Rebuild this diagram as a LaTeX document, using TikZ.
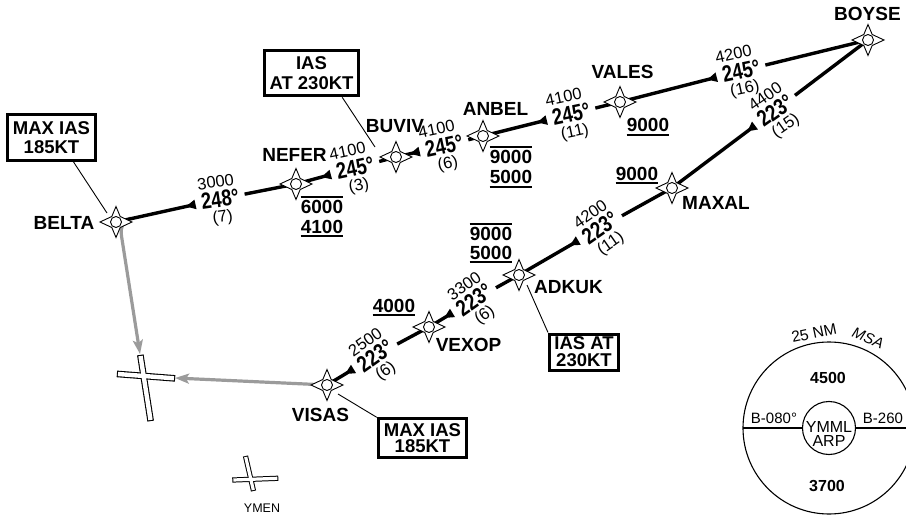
\documentclass[tikz,border=0pt]{standalone}
\usepackage{fontspec}
\setmainfont{Liberation Sans}
\newfontfamily\hdgfont{Liberation Sans}[FakeStretch=0.8]
\usetikzlibrary{arrows.meta,calc}
\definecolor{rtgrey}{RGB}{155,155,155}
\tikzset{
  wpt/.pic={
    \draw[line width=0.9pt, fill=white, line join=miter] (0,-15.5) -- (4.2,-5.5) -- (16,0) -- (4.2,5.5) -- (0,15.5) -- (-4.2,5.5) -- (-16,0) -- (-4.2,-5.5) -- cycle;
    \draw[line width=0.9pt, fill=white] (0,0) circle (5.5);
  },
  route/.style={line width=3.4pt},
  greyroute/.style={line width=3.2pt, draw=rtgrey},
  arr/.style={arrows={Triangle[reversed, length=10pt, width=9pt]-}},
  hdg/.style={font=\hdgfont\bfseries\fontsize{23}{23}\selectfont, inner xsep=1.5pt, inner ysep=1.5pt, outer xsep=4.5pt, outer ysep=0pt},
  altl/.style={font=\fontsize{16.5}{16.5}\selectfont, inner sep=1.5pt},
  distl/.style={font=\fontsize{16.5}{16.5}\selectfont, inner sep=1.5pt},
  wptname/.style={font=\bfseries\fontsize{19}{19}\selectfont, inner sep=0pt},
  cons/.style={font=\bfseries\fontsize{19}{19}\selectfont, inner xsep=0pt, inner ysep=2.6pt},
  conline/.style={line width=2pt},
  infobox/.style={draw, line width=3pt, align=center, inner sep=0pt},
  leader/.style={line width=0.9pt},
  rwyout/.style={line width=6.6pt, shorten <=-1.1pt, shorten >=-1.1pt},
  rwyin/.style={line width=4.4pt, white},
  srwyout/.style={line width=5.2pt, shorten <=-1pt, shorten >=-1pt},
  srwyin/.style={line width=3.2pt, white},
}
\begin{document}
\begin{tikzpicture}[x=1pt,y=-1pt]
\useasboundingbox (0,0) rectangle (906,516);
\clip (0,0) rectangle (906,516);

% waypoints
\coordinate (BELTA) at (116,222);
\coordinate (NEFER) at (296,184);
\coordinate (BUVIV) at (396,157);
\coordinate (ANBEL) at (483,136);
\coordinate (VALES) at (620,102);
\coordinate (BOYSE) at (868,40);
\coordinate (MAXAL) at (672,188);
\coordinate (ADKUK) at (519,275);
\coordinate (VEXOP) at (429,327);
\coordinate (VISAS) at (327,385);

% runway ends
\coordinate (rwyN) at (140,354);
\coordinate (rwyE) at (175,378);

% leg labels
\node[hdg, rotate=8] (h1) at (220,199) {248°};
\node[altl, rotate=8, anchor=south] (a1) at ($(h1.north)+(-2,0)$) {3000};
\node[distl, rotate=8, anchor=north] (d1) at (h1.south) {(7)};

\node[hdg, rotate=12] (h2) at (355,168) {245°};
\node[altl, rotate=12, anchor=south] (a2) at ($(h2.north)+(-4,0)$) {4100};
\node[distl, rotate=12, anchor=north] (d2) at (h2.south) {(3)};

\node[hdg, rotate=12] (h3) at (444,146) {245°};
\node[altl, rotate=12, anchor=south] (a3) at ($(h3.north)+(-4,0)$) {4100};
\node[distl, rotate=12, anchor=north] (d3) at (h3.south) {(6)};

\node[hdg, rotate=12] (h4) at (571,114) {245°};
\node[altl, rotate=12, anchor=south] (a4) at ($(h4.north)+(-4,0)$) {4100};
\node[distl, rotate=12, anchor=north] (d4) at (h4.south) {(11)};

\node[hdg, rotate=12] (h5) at (741,71) {245°};
\node[altl, rotate=12, anchor=south] (a5) at ($(h5.north)+(-4,0)$) {4200};
\node[distl, rotate=12, anchor=north] (d5) at (h5.south) {(16)};

\node[hdg, rotate=35] (h6) at (775,110.5) {223°};
\node[altl, rotate=35, anchor=south] (a6) at (h6.north) {4400};
\node[distl, rotate=35, anchor=north] (d6) at (h6.south) {(15)};

\node[hdg, rotate=35] (h7) at (600,228) {223°};
\node[altl, rotate=35, anchor=south] (a7) at (h7.north) {4200};
\node[distl, rotate=35, anchor=north] (d7) at (h7.south) {(11)};

\node[hdg, rotate=35] (h8) at (474,300) {223°};
\node[altl, rotate=35, anchor=south] (a8) at (h8.north) {3300};
\node[distl, rotate=35, anchor=north] (d8) at (h8.south) {(6)};

\node[hdg, rotate=35] (h9) at (375,356) {223°};
\node[altl, rotate=35, anchor=south] (a9) at (h9.north) {2500};
\node[distl, rotate=35, anchor=north] (d9) at (h9.south) {(6)};

% grey routes
\draw[greyroute, -{Stealth[length=14pt, width=10pt, inset=3pt]}] ($(BELTA)+(15,-4)$) .. controls ($(BELTA)+(8,-2)$) and ($(BELTA)+(4,5)$) .. ($(BELTA)+(5.5,14)$) -- (rwyN);
\draw[greyroute, -{Stealth[length=14pt, width=10pt, inset=3pt]}] (VISAS) -- (rwyE);

% black routes
\draw[route] (NEFER) -- (h1);  \draw[route, arr] (h1) -- (BELTA);
\draw[route] (BUVIV) -- (h2);  \draw[route, arr] (h2) -- (NEFER);
\draw[route] (ANBEL) -- (h3);  \draw[route, arr] (h3) -- (BUVIV);
\draw[route] (VALES) -- (h4);  \draw[route, arr] (h4) -- (ANBEL);
\draw[route] (BOYSE) -- (h5);  \draw[route, arr] (h5) -- (VALES);
\draw[route] (BOYSE) -- (h6);  \draw[route, arr] (h6) -- (MAXAL);
\draw[route] (MAXAL) -- (h7);  \draw[route, arr] (h7) -- (ADKUK);
\draw[route] (ADKUK) -- (h8);  \draw[route, arr] (h8) -- (VEXOP);
\draw[route] (VEXOP) -- (h9);  \draw[route, arr] (h9) -- (VISAS);

% runways (big)
\draw[rwyout] (140.5,356) -- (150.5,420);
\draw[rwyout] (118,374) -- (174,378.3);
\draw[rwyin] (140.5,356) -- (150.5,420);
\draw[rwyin] (118,374) -- (174,378.3);
% runways (YMEN)
\draw[srwyout] (245.7,457) -- (253.3,490);
\draw[srwyout] (233.3,480) -- (277.3,478.3);
\draw[srwyin] (245.7,457) -- (253.3,490);
\draw[srwyin] (233.3,480) -- (277.3,478.3);
\node[font=\fontsize{12.5}{12.5}\selectfont, inner sep=0pt] (ymen) at (262,508) {YMEN};

% waypoint symbols
\foreach \w in {BELTA,NEFER,BUVIV,ANBEL,VALES,BOYSE,MAXAL,ADKUK,VEXOP,VISAS}
  \pic at (\w) {wpt};

% waypoint names
\node[wptname] (nBELTA) at (64,223) {BELTA};
\node[wptname] (nNEFER) at (294.5,155) {NEFER};
\node[wptname] (nBUVIV) at (395,126.5) {BUVIV};
\node[wptname] (nANBEL) at (495.5,108.5) {ANBEL};
\node[wptname] (nVALES) at (622.5,71.5) {VALES};
\node[wptname] (nBOYSE) at (867.5,13.5) {BOYSE};
\node[wptname] (nMAXAL) at (716,202.5) {MAXAL};
\node[wptname] (nADKUK) at (568.5,287.5) {ADKUK};
\node[wptname] (nVEXOP) at (468.5,344.5) {VEXOP};
\node[wptname] (nVISAS) at (320.5,414.5) {VISAS};

% altitude constraints
\node[cons] (c1a) at (322,206.5) {6000};
\draw[conline] (c1a.north west) -- (c1a.north east);
\node[cons] (c1b) at (322,226.5) {4100};
\draw[conline] (c1b.south west) -- (c1b.south east);
\node[cons] (c2a) at (511,156.5) {9000};
\draw[conline] (c2a.north west) -- (c2a.north east);
\node[cons] (c2b) at (511,177.3) {5000};
\draw[conline] (c2b.south west) -- (c2b.south east);
\node[cons] (c3) at (648,125) {9000};
\draw[conline] (c3.south west) -- (c3.south east);
\node[cons] (c4) at (637,173.5) {9000};
\draw[conline] (c4.south west) -- (c4.south east);
\node[cons] (c5a) at (491,233.5) {9000};
\draw[conline] (c5a.north west) -- (c5a.north east);
\node[cons] (c5b) at (491,252.5) {5000};
\draw[conline] (c5b.south west) -- (c5b.south east);
\node[cons] (c6) at (394,305.5) {4000};
\draw[conline] (c6.south west) -- (c6.south east);

% info boxes
\node[infobox, minimum width=88pt, minimum height=46pt, font=\bfseries\fontsize{18.5}{19}\selectfont] (box1) at (51.5,137.5) {MAX IAS\\185KT};
\node[infobox, minimum width=94pt, minimum height=45pt, font=\bfseries\fontsize{18.5}{20.5}\selectfont] (box2) at (311.5,73.3) {IAS\\AT 230KT};
\node[infobox, minimum width=69pt, minimum height=36pt, font=\bfseries\fontsize{18.5}{17}\selectfont] (box3) at (584,352) {IAS AT\\230KT};
\node[infobox, minimum width=88.5pt, minimum height=39pt, font=\bfseries\fontsize{18.5}{16.5}\selectfont] (box4) at (422.5,438.3) {MAX IAS\\185KT};

\coordinate (ld1) at (107,213);
\coordinate (ld2) at (375,147);
\coordinate (ld3) at (527,285);
\coordinate (ld4) at (338,394);
\draw[leader] (box1.-48) -- (ld1);
\draw[leader] (box2.-38) -- (ld2);
\draw[leader] (ld3) -- (box3.north west);
\draw[leader] (ld4) -- (box4.north west);

% MSA
\coordinate (msa) at (829,428);
\coordinate (msaL) at (743,428);
\coordinate (msaR) at (915,428);
\draw[line width=1.1pt] (msa) circle (86);
\node[draw, circle, minimum size=53pt, inner sep=0pt, line width=1.1pt] (arp) at (msa) {};
\draw[line width=1.1pt] (msaL) -- (arp.west);
\draw[line width=1.1pt] (arp.east) -- (msaR);
\node[font=\fontsize{16}{13.5}\selectfont, align=center, inner sep=0pt] (arptxt) at (829,434) {YMML\\ARP};
\node[font=\bfseries\fontsize{16}{16}\selectfont, inner sep=0pt] (m1) at (828,377.5) {4500};
\node[font=\bfseries\fontsize{16}{16}\selectfont, inner sep=0pt] (m2) at (827,486) {3700};
\node[font=\fontsize{15}{15}\selectfont, inner sep=0pt] (b1) at (774,418.5) {B-080°};
\node[font=\fontsize{15}{15}\selectfont, inner sep=0pt] (b2) at (883,418.5) {B-260};
\node[font=\fontsize{15.5}{15.5}\selectfont, inner sep=0pt, rotate=12] (nm) at (814,333) {25 NM};
\node[font=\itshape\fontsize{15}{15}\selectfont, inner sep=0pt, rotate=-22] (msat) at (868,338) {MSA};
\end{tikzpicture}
\end{document}
